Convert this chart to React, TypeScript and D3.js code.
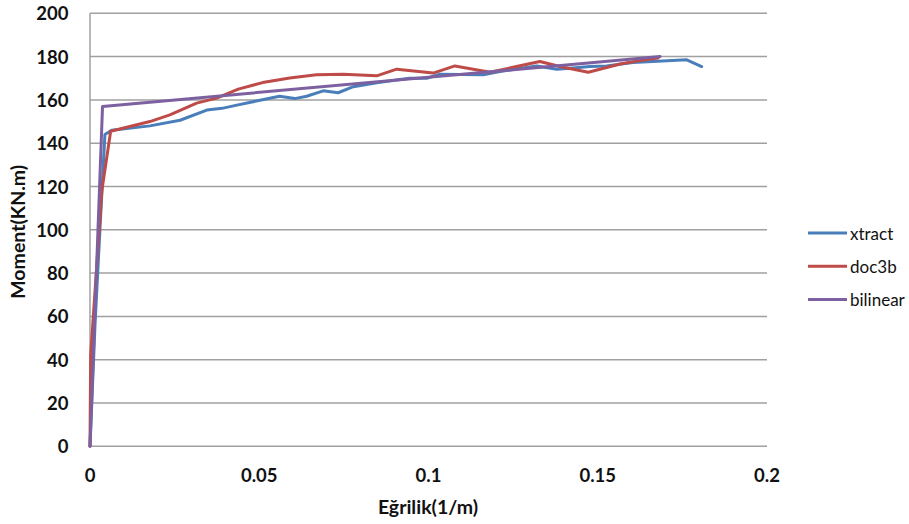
import React from "react";
import * as d3 from "d3";

const xtractX = [0, 0.0015, 0.0044, 0.0064, 0.0177, 0.0266, 0.0345, 0.039, 0.0434, 0.0502, 0.056, 0.0605, 0.064, 0.0689, 0.0733, 0.0778, 0.0847, 0.0916, 0.0945, 0.0995, 0.1034, 0.1162, 0.1211, 0.132, 0.1379, 0.1418, 0.1477, 0.1526, 0.1604, 0.1763, 0.1807];
const xtractY = [0, 57, 144, 146, 148, 150.6, 155.3, 156.1, 157.6, 159.8, 161.7, 160.6, 161.7, 164.2, 163.3, 166.1, 167.9, 169.4, 170, 170, 171.9, 171.6, 173.1, 175.7, 174.2, 174.6, 175.4, 175.7, 177.3, 178.5, 175.4];

const doc3bX = [0, 0.0002, 0.0035, 0.0061, 0.0177, 0.0236, 0.0315, 0.0374, 0.0438, 0.051, 0.059, 0.0669, 0.0748, 0.0847, 0.0906, 0.1014, 0.1078, 0.1182, 0.1329, 0.1388, 0.1472, 0.1566, 0.1625, 0.1678];
const doc3bY = [0, 42, 118, 145.5, 150, 153.1, 158.5, 160.8, 165, 168, 170.1, 171.6, 171.9, 171.1, 174.2, 172.4, 175.7, 172.8, 177.7, 175.4, 172.8, 176.6, 178.2, 179.3];

const bilinearX = [0, 0.0037, 0.1684];
const bilinearY = [0, 157, 180];

const xTicks = [0, 0.05, 0.1, 0.15, 0.2];
const xTickLabels = ["0", "0.05", "0.1", "0.15", "0.2"];
const yTicks = [0, 20, 40, 60, 80, 100, 120, 140, 160, 180, 200];

const seriesNames = ["xtract", "doc3b", "bilinear"];
const seriesColors = ["#4A7EBB", "#BE4B48", "#7D60A0"];

export default function App() {
  const x = d3.scaleLinear().domain([0, 0.2]).range([90, 767]);
  const y = d3.scaleLinear().domain([0, 200]).range([446.3, 13.3]);
  const line = d3
    .line<[number, number]>()
    .x((d) => x(d[0]))
    .y((d) => y(d[1]));

  const series = [
    xtractX.map((v, i) => [v, xtractY[i]] as [number, number]),
    doc3bX.map((v, i) => [v, doc3bY[i]] as [number, number]),
    bilinearX.map((v, i) => [v, bilinearY[i]] as [number, number]),
  ];

  const font = "Lato, 'Open Sans', sans-serif";

  return (
    <svg
      width={909}
      height={524}
      style={{ position: "absolute", left: 0, top: 0, background: "#fff" }}
      fontFamily={font}
    >
      <rect width={909} height={524} fill="#fff" />
      {yTicks.map((t) => (
        <line key={"g" + t} x1={x(0)} x2={x(0.2)} y1={y(t)} y2={y(t)} stroke="#A0A0A0" strokeWidth={1.5} />
      ))}
      <line x1={x(0)} x2={x(0)} y1={y(0)} y2={y(200)} stroke="#A0A0A0" strokeWidth={1.5} />
      {yTicks.map((t) => (
        <text key={"yl" + t} x={68.5} y={y(t)} textAnchor="end" dominantBaseline="central" fontSize={18.5} fontWeight="bold" fill="#111">
          {t}
        </text>
      ))}
      {xTicks.map((t, i) => (
        <text key={"xl" + t} x={x(t)} y={475} textAnchor="middle" dominantBaseline="central" fontSize={18.5} fontWeight="bold" fill="#111">
          {xTickLabels[i]}
        </text>
      ))}
      <text x={428} y={506} textAnchor="middle" dominantBaseline="central" fontSize={19.5} fontWeight="bold" fill="#111">
        Eğrilik(1/m)
      </text>
      <text
        transform={`translate(17.5,${y(100) + 2}) rotate(-90)`}
        textAnchor="middle"
        dominantBaseline="central"
        fontSize={19.5}
        fontWeight="bold"
        fill="#111"
      >
        Moment(KN.m)
      </text>
      {series.map((s, i) => (
        <path key={"s" + i} d={line(s) || ""} fill="none" stroke={seriesColors[i]} strokeWidth={3} strokeLinejoin="round" strokeLinecap="round" />
      ))}
      {seriesNames.map((n, i) => (
        <g key={"lg" + n}>
          <line x1={808} x2={847} y1={233 + i * 33.3} y2={233 + i * 33.3} stroke={seriesColors[i]} strokeWidth={3} />
          <text x={850} y={233 + i * 33.3} dominantBaseline="central" fontSize={17} fill="#111">
            {n}
          </text>
        </g>
      ))}
    </svg>
  );
}
